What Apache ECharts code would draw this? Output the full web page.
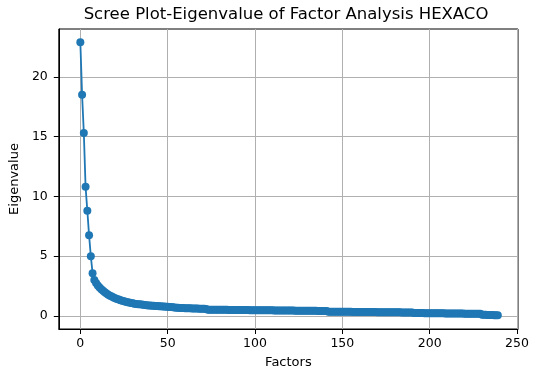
<!DOCTYPE html>
<html><head><meta charset="utf-8">
<script src="https://cdn.jsdelivr.net/npm/echarts@6/dist/echarts.min.js"></script>
<style>html,body{margin:0;padding:0;background:#fff}#c{width:536px;height:381px}</style>
</head><body><div id="c"></div>
<script>
const chartTitle = 'Scree Plot-Eigenvalue of Factor Analysis HEXACO';
const xName = 'Factors';
const yName = 'Eigenvalue';
const xTicks = [0, 50, 100, 150, 200, 250];
const yTicks = [0, 5, 10, 15, 20];
const eigenvalues = [
  22.9, 18.5, 15.3, 10.8, 8.8, 6.75, 5.0, 3.58, 3.0, 2.75, 2.55,
  2.38, 2.24, 2.1, 1.98, 1.88, 1.78, 1.7, 1.62, 1.55, 1.48,
  1.42, 1.37, 1.32, 1.27, 1.23, 1.19, 1.15, 1.12, 1.09, 1.06,
  1.03, 1.01, 0.99, 0.97, 0.95, 0.93, 0.91, 0.9, 0.88, 0.87,
  0.86, 0.85, 0.84, 0.83, 0.82, 0.81, 0.8, 0.79, 0.78, 0.77,
  0.76, 0.75, 0.73, 0.7, 0.69, 0.68, 0.67, 0.66, 0.66, 0.65,
  0.65, 0.64, 0.64, 0.63, 0.63, 0.62, 0.62, 0.61, 0.61, 0.6, 0.6, 0.59,
  0.53, 0.53, 0.53, 0.52, 0.52, 0.52, 0.52, 0.51, 0.51, 0.51, 0.51, 0.51, 0.5, 0.5,
  0.5, 0.5, 0.5, 0.5, 0.49, 0.49, 0.49, 0.49, 0.49, 0.49, 0.48, 0.48, 0.48, 0.48,
  0.48, 0.48, 0.48, 0.48, 0.47, 0.47, 0.47, 0.47, 0.47, 0.47, 0.46, 0.46, 0.46, 0.46,
  0.46, 0.46, 0.45, 0.45, 0.45, 0.45, 0.45, 0.45, 0.44, 0.44, 0.44, 0.44, 0.44, 0.44,
  0.44, 0.43, 0.43, 0.43, 0.43, 0.43, 0.43, 0.42, 0.42, 0.42, 0.42, 0.42, 0.42,
  0.36, 0.36, 0.36, 0.36, 0.36, 0.36, 0.36, 0.35, 0.35, 0.35, 0.35, 0.35, 0.35, 0.35,
  0.34, 0.34, 0.34, 0.34, 0.34, 0.34, 0.34, 0.33, 0.33, 0.33, 0.33, 0.33, 0.33, 0.33,
  0.32, 0.32, 0.32, 0.32, 0.32, 0.32, 0.32, 0.31, 0.31, 0.31, 0.31, 0.31, 0.31, 0.31,
  0.3, 0.3, 0.3, 0.3, 0.3, 0.3, 0.3,
  0.24, 0.24, 0.24, 0.24, 0.24, 0.24, 0.23, 0.23, 0.23, 0.23, 0.23, 0.23,
  0.22, 0.22, 0.22, 0.22, 0.22, 0.22, 0.21, 0.21, 0.21, 0.21, 0.21, 0.21,
  0.2, 0.2, 0.2, 0.2, 0.2, 0.19, 0.19, 0.19, 0.19, 0.19, 0.18, 0.18, 0.18, 0.18, 0.18,
  0.11, 0.1, 0.1, 0.09, 0.09, 0.08, 0.08, 0.07, 0.06, 0.05
];
const points = eigenvalues.map((v, i) => [i, v]);
const font = 'DejaVu Sans';
const chart = echarts.init(document.getElementById('c'), null, {renderer: 'canvas'});
chart.setOption({
  animation: false,
  backgroundColor: '#fff',
  graphic: [{
    type: 'text', x: 286, y: 15, z: 10,
    style: {text: chartTitle, fontFamily: font, fontSize: 16.5, fill: '#000',
            textAlign: 'center', textVerticalAlign: 'middle'}
  }],
  grid: {left: 55, right: 18, top: 29, bottom: 52, show: true,
         borderColor: '#000', borderWidth: 1, backgroundColor: 'transparent'},
  xAxis: {
    type: 'value', min: -12.33, max: 250.57,
    name: xName, nameLocation: 'middle', nameGap: 27,
    nameTextStyle: {fontFamily: font, fontSize: 13, color: '#000'},
    axisLine: {onZero: false, lineStyle: {color: '#000', width: 1}},
    axisTick: {customValues: xTicks, length: 5, lineStyle: {color: '#000', width: 1}},
    axisLabel: {customValues: xTicks, margin: 8, fontFamily: font, fontSize: 12.5, color: '#000'},
    splitLine: {show: true, lineStyle: {color: '#b0b0b0', width: 1}}
  },
  yAxis: {
    type: 'value', min: -1.09, max: 24.0,
    name: yName, nameLocation: 'middle', nameGap: 36,
    nameTextStyle: {fontFamily: font, fontSize: 13, color: '#000'},
    axisLine: {onZero: false, lineStyle: {color: '#000', width: 1}},
    axisTick: {customValues: yTicks, length: 5, lineStyle: {color: '#000', width: 1}},
    axisLabel: {customValues: yTicks, margin: 11, fontFamily: font, fontSize: 12.5, color: '#000'},
    splitLine: {show: true, lineStyle: {color: '#b0b0b0', width: 1}}
  },
  series: [{
    type: 'line', data: points, symbol: 'circle', symbolSize: 8,
    showAllSymbol: true, clip: false,
    lineStyle: {color: '#1f77b4', width: 1.8},
    itemStyle: {color: '#1f77b4'}
  }]
});
</script></body></html>
